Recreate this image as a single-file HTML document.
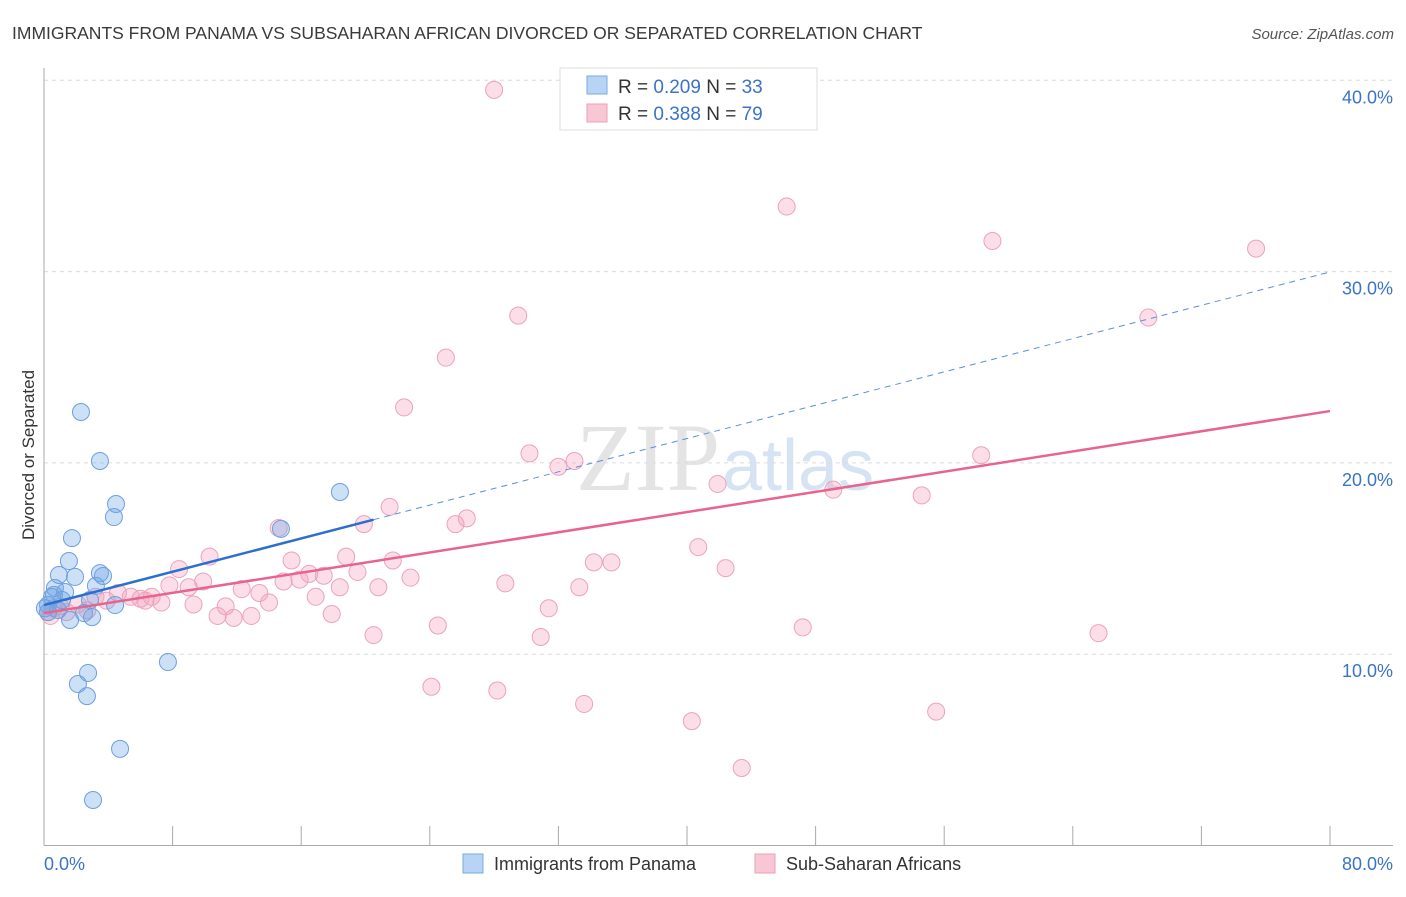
<!DOCTYPE html>
<html><head><meta charset="utf-8"><style>
body{margin:0;background:#fff;font-family:"Liberation Sans",sans-serif;}
</style></head><body>
<svg width="1406" height="892" xmlns="http://www.w3.org/2000/svg">
<text x="12" y="39" font-size="17.5" fill="#3a3a3a">IMMIGRANTS FROM PANAMA VS SUBSAHARAN AFRICAN DIVORCED OR SEPARATED CORRELATION CHART</text>
<text x="1394" y="39" font-size="15" fill="#555" font-style="italic" text-anchor="end">Source: ZipAtlas.com</text>
<text x="720" y="490" font-size="96" fill="#e4e4e4" text-anchor="end" font-family="Liberation Serif">ZIP</text>
<text x="722" y="490" font-size="72" fill="#d6e3f3">atlas</text>
<g id="grid"></g><g id="axes"></g><g id="pts"></g><g id="lines"></g>
<text transform="translate(34,455) rotate(-90)" font-size="17" fill="#333" text-anchor="middle">Divorced or Separated</text>
<g>
<rect x="560" y="68" width="257" height="62" fill="#fff" stroke="#ddd"/>
<rect x="587" y="76" width="20" height="18" fill="#b8d4f5" stroke="#7aa8e0"/>
<rect x="587" y="104" width="20" height="18" fill="#f9c6d6" stroke="#eaa0ba"/>
<text x="618" y="93" font-size="19" fill="#333">R = <tspan fill="#3b73c8">0.209</tspan>   N = <tspan fill="#3b73c8">33</tspan></text>
<text x="618" y="120" font-size="19" fill="#333">R = <tspan fill="#3b73c8">0.388</tspan>   N = <tspan fill="#3b73c8">79</tspan></text>
</g>
<g>
<rect x="463" y="854" width="20" height="19" fill="#b8d4f5" stroke="#7aa8e0"/>
<text x="494" y="870" font-size="18" fill="#333">Immigrants from Panama</text>
<rect x="755" y="854" width="20" height="19" fill="#f9c6d6" stroke="#eaa0ba"/>
<text x="786" y="870" font-size="18" fill="#333">Sub-Saharan Africans</text>
</g>
</svg>
<script>
const yTicks=[10,20,30,40];
const yTickLabels=["10.0%","20.0%","30.0%","40.0%"];
const xTickLabels=["0.0%","80.0%"];
const blueX=[2.3,3.48,4.48,4.35,18.41,14.74,1.74,1.55,0.93,1.93,3.48,3.67,3.23,0.68,1.31,0.5,0.25,2.86,4.42,0.87,2.49,2.99,1.62,0.25,7.71,2.74,2.11,2.67,4.73,3.05,1.12,0.06,0.62];
const blueY=[22.66,20.1,17.85,17.17,18.48,16.55,16.07,14.87,14.14,14.04,14.24,14.09,13.57,13.46,13.25,12.99,12.57,12.83,12.57,12.31,12.15,11.94,11.79,12.2,9.59,9.02,8.44,7.81,5.05,2.38,12.83,12.4,13.1];
const pinkX=[28.0,46.2,59.0,75.4,29.5,68.7,25.0,22.4,30.2,32.0,33.0,58.3,41.9,49.1,54.6,21.5,26.3,25.6,19.9,14.6,40.7,10.3,18.8,15.4,21.7,34.2,35.3,8.4,42.4,19.5,16.5,17.4,22.8,15.9,14.9,9.9,28.7,7.8,9.0,18.4,33.3,20.8,12.3,13.4,4.6,3.2,5.4,6.7,16.9,6.0,3.9,6.3,7.3,14.0,2.1,9.3,11.3,31.4,1.0,2.7,1.4,10.8,11.8,12.9,17.9,0.25,0.6,24.5,47.2,65.6,20.5,30.9,24.1,28.2,33.6,55.5,40.3,43.4,0.4];
const pinkY=[39.5,33.4,31.6,31.2,27.7,27.6,25.5,22.9,20.5,19.8,20.1,20.4,18.9,18.6,18.3,17.7,17.1,16.8,16.8,16.6,15.6,15.1,15.1,14.9,14.9,14.8,14.8,14.45,14.5,14.3,14.2,14.1,14.0,13.9,13.8,13.8,13.7,13.6,13.5,13.5,13.5,13.5,13.4,13.2,13.2,13.0,13.0,13.0,13.0,12.9,12.8,12.8,12.7,12.7,12.6,12.6,12.5,12.4,12.5,12.3,12.2,12.0,11.9,12.0,12.1,12.2,12.4,11.5,11.4,11.1,11.0,10.9,8.3,8.1,7.4,7.0,6.5,4.05,12.0];
const blueTrend=[12.57,29.98];
const pinkTrend=[12.15,22.71];
const blueSolidEnd=20.5;
const X=v=>44+v/80*1286, Y=v=>845.5-v*19.13;
const NS="http://www.w3.org/2000/svg";
function mk(p,t,a){const e=document.createElementNS(NS,t);for(const k in a)e.setAttribute(k,a[k]);p.appendChild(e);return e;}
const grid=document.getElementById('grid'),axes=document.getElementById('axes'),pts=document.getElementById('pts'),lines=document.getElementById('lines');
yTicks.forEach((t,i)=>{const l=mk(grid,'line',{x1:44,x2:1393,y1:Y(t),y2:Y(t),stroke:'#dcdcdc','stroke-dasharray':'4,4'});


const tx=mk(axes,'text',{x:1393,y:Y(t)+23,'font-size':18,fill:'#3b73c8','text-anchor':'end'});tx.textContent=yTickLabels[i];

});
const ax=mk(axes,'line',{x1:44,x2:1393,y1:845.5,y2:845.5,stroke:'#aaa'});


const ay=mk(axes,'line',{x1:44,x2:44,y1:68,y2:845.5,stroke:'#aaa'});


for(let i=0;i<=10;i++){const t=mk(axes,'line',{x1:X(i*8),x2:X(i*8),y1:826,y2:845.5,stroke:'#aaa'});

}
[[0,'start',44],[80,'end',1393]].forEach((d,i)=>{const t=mk(axes,'text',{x:d[2],y:870,'font-size':18,fill:'#3b73c8','text-anchor':d[1]});t.textContent=xTickLabels[i];

});
pinkX.forEach((x,i)=>{const c=mk(pts,'circle',{cx:X(x),cy:Y(pinkY[i]),r:8.5,fill:'rgba(244,160,190,0.35)',stroke:'#eba3bd','stroke-width':1});

});
blueX.forEach((x,i)=>{const c=mk(pts,'circle',{cx:X(x),cy:Y(blueY[i]),r:8.5,fill:'rgba(110,165,230,0.35)',stroke:'#6f9fdd','stroke-width':1});

});
const bAt=v=>blueTrend[0]+(blueTrend[1]-blueTrend[0])*v/80;
const l1=mk(lines,'line',{x1:X(0),y1:Y(bAt(0)),x2:X(blueSolidEnd),y2:Y(bAt(blueSolidEnd)),stroke:'#2b6fd0','stroke-width':2.5});


const l2=mk(lines,'line',{x1:X(blueSolidEnd),y1:Y(bAt(blueSolidEnd)),x2:X(80),y2:Y(bAt(80)),stroke:'#5b8fd8','stroke-width':1,'stroke-dasharray':'6,5'});


const l3=mk(lines,'line',{x1:X(0),y1:Y(pinkTrend[0]),x2:X(80),y2:Y(pinkTrend[1]),stroke:'#e8648f','stroke-width':2.5});


</script>
</body></html>
